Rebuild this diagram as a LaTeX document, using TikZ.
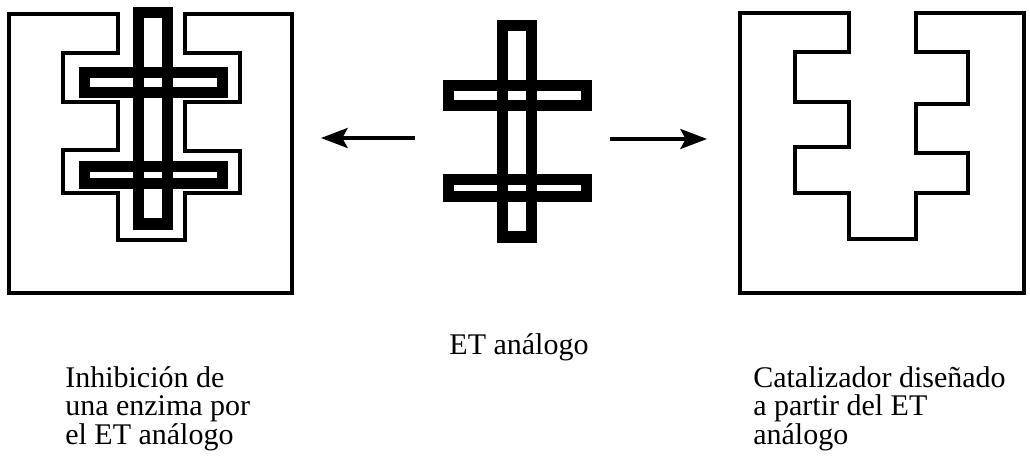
\documentclass[tikz,border=0pt]{standalone}
\usepackage{fontspec}
\setmainfont{Liberation Serif}
\usetikzlibrary{arrows.meta}
\tikzset{
  boxline/.style={line width=2.6pt, line join=miter},
  barline/.style={line width=8.4pt, line join=miter},
  arrowline/.style={line width=2.6pt, -{Stealth[length=20pt, width=15pt, inset=4pt]}},
  lbl/.style={font=\fontsize{22.5pt}{21.4pt}\selectfont, inner sep=0pt, align=left},
  analog/.pic={
    \draw[barline] (0,0) rectangle (29,211.5);
    \draw[barline] (-54,60) rectangle (84,80);
    \draw[barline] (-54,154) rectangle (84,171);
  }
}
\begin{document}
\begin{tikzpicture}[x=0.75pt,y=-0.75pt]
\useasboundingbox (0,0) rectangle (1030,456);
% left enzyme with inhibitor
\draw[boxline] (118,14) -- (118,53) -- (63,53) -- (63,102) -- (118,102) -- (118,150) -- (63,150) -- (63,193) -- (118,193) -- (118,240) -- (185,240) -- (185,193) -- (240,193) -- (240,151) -- (185,151) -- (185,102) -- (240,102) -- (240,53) -- (185,53) -- (185,14) -- (292,14) -- (292,293) -- (9,293) -- (9,14) -- cycle;
\pic at (138.5,12.5) {analog};
% middle TS analog
\pic at (502.5,25.5) {analog};
% right catalyst
\draw[boxline] (849,13) -- (849,52) -- (795,52) -- (795,102) -- (849,102) -- (849,147) -- (795,147) -- (795,193) -- (849,193) -- (849,239) -- (916,239) -- (916,193) -- (968,193) -- (968,153) -- (916,153) -- (916,104) -- (968,104) -- (968,52) -- (916,52) -- (916,13) -- (1024,13) -- (1024,293) -- (740,293) -- (740,13) -- cycle;
% arrows
\coordinate (la0) at (415,138);
\coordinate (la1) at (321,138);
\coordinate (ra0) at (610,139);
\coordinate (ra1) at (707,139);
\draw[arrowline] (la0) -- (la1);
\draw[arrowline] (ra0) -- (ra1);
% labels
\node[lbl, anchor=base] (tsa) at (519,354) {ET análogo};
\node[lbl, anchor=north west] (inh) at (65,366) {Inhibición de\\una enzima por\\el ET análogo};
\node[lbl, anchor=north west] (cat) at (753,366) {Catalizador diseñado\\a partir del ET\\análogo};
\end{tikzpicture}
\end{document}
